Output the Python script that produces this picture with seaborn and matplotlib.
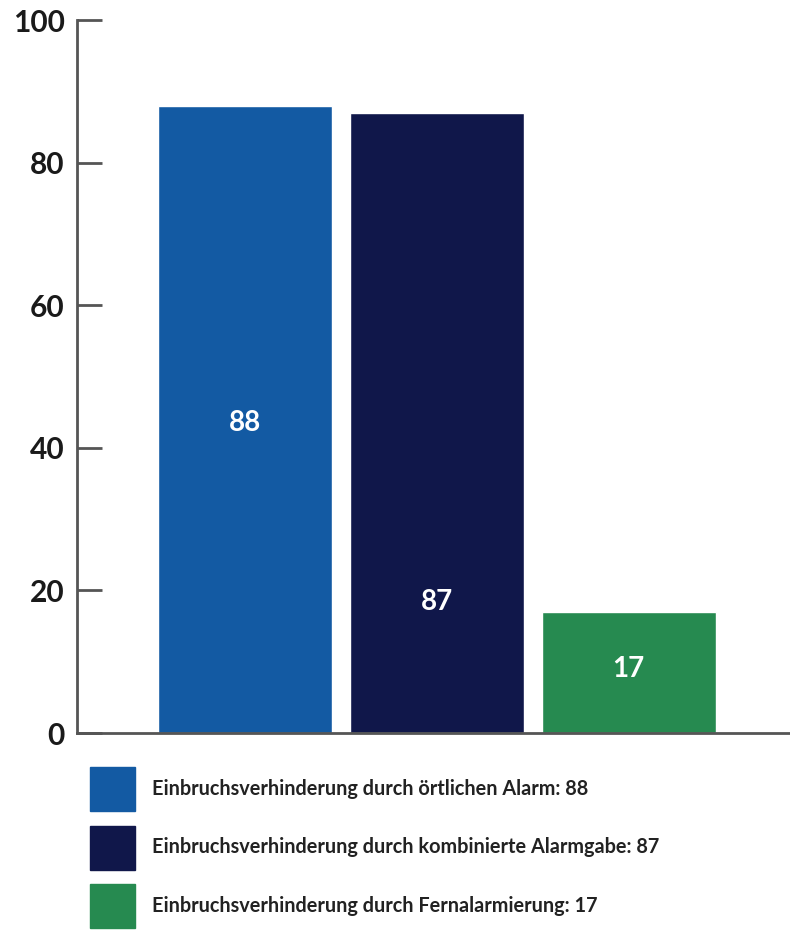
import matplotlib
matplotlib.use("Agg")
import matplotlib.pyplot as plt
import pandas as pd
import seaborn as sns

# chart values
categories = [
    "Einbruchsverhinderung durch örtlichen Alarm",
    "Einbruchsverhinderung durch kombinierte Alarmgabe",
    "Einbruchsverhinderung durch Fernalarmierung",
]
values = [88, 87, 17]
colors = ["#135aa3", "#10174a", "#268a50"]
yticks = [0, 20, 40, 60, 80, 100]

df = pd.DataFrame({"kategorie": categories, "wert": values})

sns.set_style("white")
plt.rcParams["font.family"] = ["Lato", "DejaVu Sans"]

fig = plt.figure(figsize=(7.9, 9.3), dpi=100)
ax = fig.add_axes([77 / 790, 1 - 733 / 930, 1 - 77 / 790, (733 - 20) / 930])

sns.barplot(data=df, x="kategorie", y="wert", hue="kategorie",
            palette=colors, width=0.906, dodge=False, legend=False,
            saturation=1, ax=ax)

ax.set_xlim(-0.875, 2.84)
ax.set_ylim(0, 100)
ax.set_yticks(yticks)
ax.set_xticks([])
ax.set_xlabel("")
ax.set_ylabel("")
ax.tick_params(axis="y", left=True, direction="in", length=18, width=2,
               color="#555555", labelsize=21.5, pad=9)
for lab in ax.get_yticklabels():
    lab.set_fontweight("bold")
    lab.set_color("#1a1a1a")

sns.despine(ax=ax, top=True, right=True)
for side in ["left", "bottom"]:
    ax.spines[side].set_color("#555555")
    ax.spines[side].set_linewidth(2)

# value labels in the bars
label_y = [43.5, 18.4, 9]
for i, (v, yy) in enumerate(zip(values, label_y)):
    ax.text(i, yy, str(v), ha="center", va="center", color="white",
            fontsize=20, fontweight="bold")

# legend
handles = [plt.Rectangle((0, 0), 1, 1, color=c) for c in colors]
labels = [f"{c}: {v}" for c, v in zip(categories, values)]
fig.legend(handles, labels, loc="upper left",
           bbox_to_anchor=(90 / 790, 1 - 767 / 930), frameon=False,
           borderpad=0, borderaxespad=0, handlelength=2.26, handleheight=3.02,
           labelspacing=0.75, handletextpad=0.85,
           prop={"size": 14.3, "weight": "bold"}, labelcolor="#222222")

fig.savefig("out.png", dpi=100)
